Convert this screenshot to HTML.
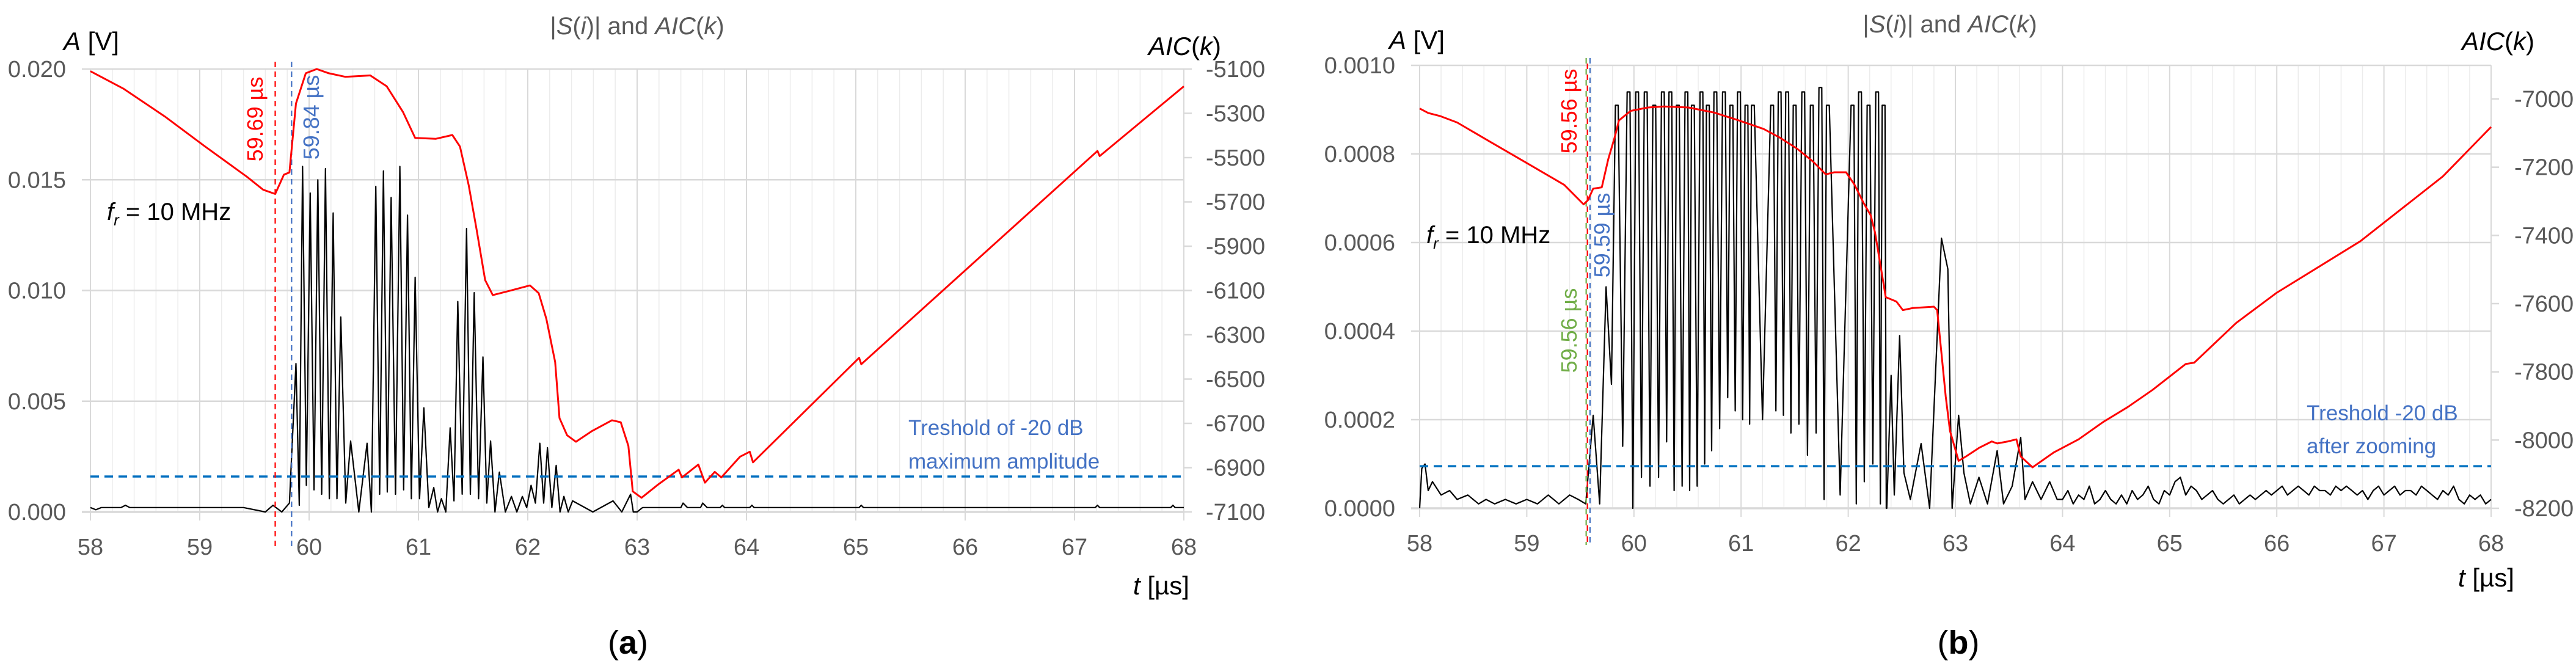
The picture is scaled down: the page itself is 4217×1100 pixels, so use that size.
<!DOCTYPE html>
<html><head><meta charset="utf-8">
<style>
html,body{margin:0;padding:0;background:#fff;}
svg{display:block;}
text{font-family:"Liberation Sans",sans-serif;}
</style></head>
<body>
<svg id="fig" width="4217" height="1100" viewBox="0 0 4217 1100" xmlns="http://www.w3.org/2000/svg"></svg>
<script>
// ---------- Chart (a) data ----------
const aAicT = [58.00,58.30,58.68,59.05,59.43,59.58,59.69,59.77,59.82,59.88,59.97,60.07,60.18,60.33,60.56,60.71,60.86,60.97,61.16,61.31,61.38,61.46,61.53,61.61,61.68,61.83,62.02,62.10,62.17,62.25,62.29,62.36,62.44,62.59,62.77,62.85,62.92,62.96,63.04,63.19,63.38,63.41,63.56,63.62,63.71,63.77,63.94,64.03,64.06,65.03,65.05,67.21,67.23,68.00];
const aAicV = [-5110,-5188,-5314,-5450,-5586,-5645,-5664,-5577,-5567,-5256,-5119,-5100,-5119,-5135,-5129,-5178,-5295,-5411,-5415,-5398,-5450,-5625,-5820,-6053,-6121,-6102,-6077,-6112,-6228,-6423,-6676,-6754,-6783,-6734,-6686,-6695,-6802,-7007,-7036,-6977,-6909,-6944,-6886,-6968,-6919,-6944,-6851,-6828,-6876,-6404,-6433,-5470,-5493,-5178];
const aPeakT = [59.88,59.94,60.01,60.08,60.15,60.22,60.29,60.38,60.53,60.61,60.68,60.75,60.83,60.90,60.97,61.05,61.14,61.21,61.29,61.36,61.44,61.51,61.59,61.66,61.74,61.85,61.95,62.03,62.11,62.18,62.26,62.33,62.41,62.78,62.94];
const aPeakA = [0.0067,0.0156,0.0144,0.0150,0.0155,0.0135,0.0088,0.0032,0.0031,0.0147,0.0154,0.0142,0.0156,0.0134,0.0106,0.0047,0.0011,0.0006,0.0038,0.0095,0.0128,0.0099,0.0070,0.0032,0.0018,0.0007,0.0007,0.0012,0.0031,0.0029,0.0021,0.0007,0.0005,0.0005,0.0008];
const aValleyA = [0.0003,0.0012,0.0010,0.0008,0.0006,0.0006,0.0004,0.0000,0.0000,0.0008,0.0009,0.0008,0.0010,0.0006,0.0006,0.0002,0.0000,0.0000,0.0005,0.0008,0.0008,0.0006,0.0004,0.0000,0.0000,0.0000,0.0002,0.0004,0.0004,0.0002,0.0000,0.0000,0.0000,0.0000,0.0000];
const aHeadT = [58.00,58.05,58.10,58.28,58.32,58.36,59.40,59.60,59.67,59.75,59.82];
const aHeadA = [0.0002,0.0001,0.0002,0.0002,0.0003,0.0002,0.0002,0.0000,0.0003,0.0000,0.0004];
const aTailT = [63.00,63.05,63.40,63.42,63.46,63.58,63.60,63.64,63.76,63.78,63.80,64.03,64.05,64.07,65.03,65.05,65.07,67.19,67.21,67.23,67.88,67.90,67.92,68.00];
const aTailA = [0.0000,0.0002,0.0002,0.0004,0.0002,0.0002,0.0004,0.0002,0.0002,0.0003,0.0002,0.0002,0.0003,0.0002,0.0002,0.0003,0.0002,0.0002,0.0003,0.0002,0.0002,0.0003,0.0002,0.0002];
const aThreshold = 0.0016;
const aMarkers = [59.69, 59.84];
const aLeftTicks = [0, 0.005, 0.010, 0.015, 0.020];
const aLeftLabels = ["0.000","0.005","0.010","0.015","0.020"];
const aRightTicks = [-7100,-6900,-6700,-6500,-6300,-6100,-5900,-5700,-5500,-5300,-5100];
const xTicks = [58,59,60,61,62,63,64,65,66,67,68];

// ---------- Chart (b) data ----------
const bAicT = [58.00,58.08,58.19,58.35,58.66,59.04,59.35,59.53,59.57,59.62,59.70,59.76,59.82,59.86,59.97,60.13,60.28,60.51,60.75,60.98,61.21,61.36,61.52,61.67,61.79,61.87,61.98,62.06,62.14,62.21,62.25,62.29,62.35,62.45,62.51,62.60,62.80,62.83,62.87,62.91,62.95,63.03,63.10,63.22,63.34,63.39,63.49,63.57,63.61,63.72,63.92,64.15,64.38,64.61,64.84,65.15,65.23,65.62,66.00,66.78,67.55,68.00];
const bAicV = [-7028,-7041,-7050,-7069,-7126,-7195,-7252,-7309,-7297,-7263,-7259,-7177,-7113,-7063,-7035,-7025,-7022,-7025,-7040,-7063,-7088,-7113,-7145,-7183,-7221,-7215,-7215,-7252,-7303,-7341,-7391,-7467,-7581,-7594,-7619,-7613,-7609,-7619,-7745,-7872,-7973,-8061,-8048,-8023,-8004,-8010,-8004,-7998,-8048,-8080,-8036,-7998,-7947,-7903,-7853,-7777,-7773,-7657,-7568,-7417,-7227,-7082];
const bPeakT = [59.84,59.95,60.03,60.11,60.19,60.27,60.34,60.41,60.49,60.55,60.63,60.69,60.76,60.84,60.91,60.98,61.05,61.11,61.29,61.36,61.43,61.50,61.58,61.66,61.74,61.81,62.04,62.11,62.19,62.27,62.33];
const bPeakA = [0.00091,0.00094,0.00094,0.00094,0.00091,0.00094,0.00094,0.00091,0.00094,0.00091,0.00094,0.00091,0.00094,0.00094,0.00091,0.00094,0.00091,0.00091,0.00091,0.00094,0.00094,0.00091,0.00094,0.00091,0.00095,0.00091,0.00091,0.00094,0.00091,0.00094,0.00091];
const bValleyA = [0.00014,0.00000,0.00007,0.00005,0.00007,0.00015,0.00004,0.00005,0.00004,0.00005,0.00010,0.00013,0.00018,0.00025,0.00022,0.00020,0.00019,0.00020,0.00022,0.00021,0.00017,0.00019,0.00012,0.00017,0.00002,0.00003,0.00001,0.00006,0.00010,0.00001,0.00000];
const bHeadT = [58.00,58.02,58.05,58.08,58.12,58.20,58.28,58.35,58.45,58.55,58.62,58.70,58.80,58.90,59.00,59.10,59.20,59.30,59.40,59.48,59.55,59.62,59.68,59.74,59.79];
const bHeadA = [0.00000,0.00009,0.00010,0.00004,0.00006,0.00003,0.00004,0.00002,0.00003,0.00001,0.00002,0.00001,0.00002,0.00001,0.00002,0.00001,0.00003,0.00001,0.00003,0.00002,0.00001,0.00021,0.00001,0.00050,0.00028];
const bTailT = [62.36,62.40,62.43,62.48,62.52,62.58,62.68,62.76,62.87,62.93,62.97,63.03,63.08,63.14,63.22,63.30,63.39,63.45,63.53,63.61,63.65,63.72,63.80,63.88,63.95];
const bTailA = [0.00000,0.00030,0.00003,0.00039,0.00008,0.00002,0.000146,0.00000,0.00061,0.00054,0.00000,0.00021,0.00008,0.00001,0.00007,0.00001,0.00013,0.00001,0.00005,0.00016,0.00002,0.00006,0.00002,0.00006,0.00002];
const bNoiseA = [0.00002,0.00004,0.00001,0.00003,0.00002,0.00005,0.00001,0.00002,0.00004,0.00002,0.00001,0.00003,0.00001,0.00004,0.00002,0.00003,0.00005,0.00002,0.00001,0.00004,0.00003,0.00006,0.00007,0.00003,0.00005,0.00004,0.00002,0.00003,0.00004,0.00002,0.00001,0.00002,0.00003,0.00001,0.00002,0.00003,0.00002,0.00003,0.00004,0.00003,0.00004,0.00005,0.00003,0.00004,0.00005,0.00004,0.00003,0.00005,0.00004,0.00004,0.00003,0.00005,0.00004,0.00005,0.00004,0.00003,0.00004,0.00002,0.00004,0.00005,0.00003,0.00004,0.00005,0.00003,0.00004,0.00004,0.00003,0.00005,0.00004,0.00003,0.00002,0.00004,0.00003,0.00005,0.00002,0.00001,0.00003,0.00002,0.00003,0.00001,0.00002];
const bThreshold = 0.000095;
const bMarkers = [59.56, 59.59];
const bLeftTicks = [0,0.0002,0.0004,0.0006,0.0008,0.0010];
const bLeftLabels = ["0.0000","0.0002","0.0004","0.0006","0.0008","0.0010"];
const bRightTicks = [-8200,-8000,-7800,-7600,-7400,-7200,-7000];

const NS = "http://www.w3.org/2000/svg";
const svg = document.getElementById('fig');
function mk(tag, attrs, parent, txt){
  const e = document.createElementNS(NS, tag);
  for (const k in attrs) e.setAttribute(k, attrs[k]);
  if (txt !== undefined) e.textContent = txt;
  (parent||svg).appendChild(e);
  return e;
}
function pts(xs, ys, sx, sy){ return xs.map((t,i)=>sx(t).toFixed(1)+','+sy(ys[i]).toFixed(1)).join(' '); }

function drawChart(cfg){
  const g = mk('g', {});
  
  
  const L=cfg.left,R=cfg.right,T=cfg.top,B=cfg.bottom;
  const sx = t => L + (t-58)/10*(R-L);
  const syL = v => B - (v-cfg.yL[0])/(cfg.yL[1]-cfg.yL[0])*(B-T);
  const syR = v => B - (v-cfg.yR[0])/(cfg.yR[1]-cfg.yR[0])*(B-T);
  for (let k=1;k<50;k++){ if (k%5===0) continue;
    const t = 58 + k*0.2;
    const l = mk('line',{x1:sx(t),x2:sx(t),y1:T,y2:B,stroke:'#ececec','stroke-width':1.5},g);
    
    
  }
  xTicks.forEach(t=>{
    const l = mk('line',{x1:sx(t),x2:sx(t),y1:T,y2:B+14,stroke:'#d9d9d9','stroke-width':2},g);
    
    
    const tx = mk('text',{x:sx(t),y:B+70,'text-anchor':'middle','font-size':38,fill:'#595959'},g,String(t));
    
    
  });
  cfg.leftTicks.forEach((v,i)=>{
    const y = syL(v);
    const l = mk('line',{x1:L-14,x2:R,y1:y,y2:y,stroke:'#d9d9d9','stroke-width':i===0?3.5:2.5},g);
    
    
    const tx = mk('text',{x:L-40,y:y+13,'text-anchor':'end','font-size':38,fill:'#595959'},g,cfg.leftLabels[i]);
    
    
  });
  cfg.rightTicks.forEach(v=>{
    const y = syR(v);
    const l = mk('line',{x1:R,x2:R+13,y1:y,y2:y,stroke:'#d9d9d9','stroke-width':2.5},g);
    
    
    const tx = mk('text',{x:R+cfg.rLblX,y:y+13,'text-anchor':'start','font-size':38,fill:'#595959'},g,String(v));
    
    
  });
  const sT=[], sA=[];
  cfg.headT.forEach((t,i)=>{sT.push(t);sA.push(cfg.headA[i]);});
  cfg.peakT.forEach((t,i)=>{
    if (cfg.half>0){ sT.push(t-cfg.half); sA.push(cfg.peakA[i]); sT.push(t+cfg.half); sA.push(cfg.peakA[i]); }
    else { sT.push(t); sA.push(cfg.peakA[i]); }
    const nt = i<cfg.peakT.length-1 ? cfg.peakT[i+1] : t+0.05;
    sT.push((t+nt)/2); sA.push(cfg.valleyA[i]);
  });
  cfg.tailT.forEach((t,i)=>{sT.push(t);sA.push(cfg.tailA[i]);});
  if (cfg.noiseA){ const n=cfg.noiseA.length; cfg.noiseA.forEach((a,i)=>{sT.push(64+4*i/(n-1)); sA.push(a);}); }
  const sig = mk('polyline',{points:pts(sT,sA,sx,syL),fill:'none',stroke:'#000','stroke-width':2.2,'stroke-linejoin':'round'},g);
  
  
  const th = mk('line',{x1:L,x2:R,y1:syL(cfg.threshold),y2:syL(cfg.threshold),stroke:'#0070c0','stroke-width':3.5,'stroke-dasharray':'14 9'},g);
  
  
  cfg.markerDraw.forEach(m=>{
    const x = sx(cfg.markers[m.i]) + (m.dx||0);
    const l = mk('line',{x1:x,x2:x,y1:T-12,y2:B+60,stroke:m.color,'stroke-width':2.2,'stroke-dasharray':m.dash,'stroke-dashoffset':m.off||0},g);
    
    
  });
  const aic = mk('polyline',{points:pts(cfg.aicT,cfg.aicV,sx,syR),fill:'none',stroke:'#ff0000','stroke-width':3,'stroke-linejoin':'round'},g);
  
  
  return g;
}

const gA = drawChart({name:'chart-a',left:148,right:1938,top:113,bottom:838,yL:[0,0.02],yR:[-7100,-5100],
  leftTicks:aLeftTicks,leftLabels:aLeftLabels,rightTicks:aRightTicks,rLblX:36,
  headT:aHeadT,headA:aHeadA,peakT:aPeakT,peakA:aPeakA,valleyA:aValleyA,half:0,tailT:aTailT,tailA:aTailA,noiseA:null,
  threshold:aThreshold,markers:aMarkers,aicT:aAicT,aicV:aAicV,
  markerDraw:[{i:0,color:'#ff0000',dash:'9 7',name:'onset-marker-red'},{i:1,color:'#4472c4',dash:'9 7',name:'onset-marker-blue'}]});
const gB = drawChart({name:'chart-b',left:2324,right:4078,top:107,bottom:832,yL:[0,0.001],yR:[-8200,-6901.5],
  leftTicks:bLeftTicks,leftLabels:bLeftLabels,rightTicks:bRightTicks,rLblX:38,
  headT:bHeadT,headA:bHeadA,peakT:bPeakT,peakA:bPeakA,valleyA:bValleyA,half:0.013,tailT:bTailT,tailA:bTailA,noiseA:bNoiseA,
  threshold:bThreshold,markers:bMarkers,aicT:bAicT,aicV:bAicV,
  markerDraw:[{i:0,color:'#70ad47',dash:'9 9',name:'onset-marker-green',dx:-1},{i:0,color:'#ff0000',dash:'9 9',off:9,name:'onset-marker-red',dx:1},{i:1,color:'#4472c4',dash:'9 7',name:'onset-marker-blue'}]});

function label(g,attrs,html,name){
  const t = mk('text',attrs,g);
  t.innerHTML = html;
  
  
  return t;
}
label(gA,{x:1043,y:56,'text-anchor':'middle','font-size':40,fill:'#595959'},'|<tspan font-style="italic">S</tspan>(<tspan font-style="italic">i</tspan>)| and <tspan font-style="italic">AIC</tspan>(<tspan font-style="italic">k</tspan>)','chart-title');
label(gA,{x:104,y:82,'font-size':42,fill:'#000'},'<tspan font-style="italic">A</tspan>  [V]','y-left-axis-title');
label(gA,{x:1880,y:90,'font-size':42,fill:'#000'},'<tspan font-style="italic">AIC</tspan>(<tspan font-style="italic">k</tspan>)','y-right-axis-title');
label(gA,{x:1855,y:973,'font-size':42,fill:'#000'},'<tspan font-style="italic">t</tspan> [µs]','x-axis-title');
label(gA,{x:175,y:360,'font-size':40,fill:'#000'},'<tspan font-style="italic">f</tspan><tspan font-style="italic" font-size="26" dy="9">r</tspan><tspan dy="-9"> =  10 MHz</tspan>','frequency-note');
label(gA,{x:1487,y:712,'font-size':35,fill:'#4472c4'},'Treshold of -20 dB','threshold-label-line1');
label(gA,{x:1487,y:767,'font-size':35,fill:'#4472c4'},'maximum amplitude','threshold-label-line2');
label(gA,{x:0,y:0,'font-size':36,fill:'#ff0000','text-anchor':'middle',transform:'translate(430,195) rotate(-90)'},'59.69 µs','marker-label-red');
label(gA,{x:0,y:0,'font-size':36,fill:'#4472c4','text-anchor':'middle',transform:'translate(522,192) rotate(-90)'},'59.84 µs','marker-label-blue');
label(gA,{x:1028,y:1070,'font-size':54,fill:'#000','text-anchor':'middle','font-family':'Liberation Serif, serif'},'(<tspan font-weight="bold">a</tspan>)','panel-label-a');
label(gB,{x:3192,y:53,'text-anchor':'middle','font-size':40,fill:'#595959'},'|<tspan font-style="italic">S</tspan>(<tspan font-style="italic">i</tspan>)| and <tspan font-style="italic">AIC</tspan>(<tspan font-style="italic">k</tspan>)','chart-title');
label(gB,{x:2274,y:80,'font-size':42,fill:'#000'},'<tspan font-style="italic">A</tspan>  [V]','y-left-axis-title');
label(gB,{x:4030,y:82,'font-size':42,fill:'#000'},'<tspan font-style="italic">AIC</tspan>(<tspan font-style="italic">k</tspan>)','y-right-axis-title');
label(gB,{x:4024,y:960,'font-size':42,fill:'#000'},'<tspan font-style="italic">t</tspan> [µs]','x-axis-title');
label(gB,{x:2335,y:398,'font-size':40,fill:'#000'},'<tspan font-style="italic">f</tspan><tspan font-style="italic" font-size="26" dy="9">r</tspan><tspan dy="-9"> = 10 MHz</tspan>','frequency-note');
label(gB,{x:3776,y:688,'font-size':35,fill:'#4472c4'},'Treshold -20 dB','threshold-label-line1');
label(gB,{x:3776,y:742,'font-size':35,fill:'#4472c4'},'after zooming','threshold-label-line2');
label(gB,{x:0,y:0,'font-size':36,fill:'#ff0000','text-anchor':'middle',transform:'translate(2581,182) rotate(-90)'},'59.56 µs','marker-label-red');
label(gB,{x:0,y:0,'font-size':36,fill:'#4472c4','text-anchor':'middle',transform:'translate(2635,385) rotate(-90)'},'59.59 µs','marker-label-blue');
label(gB,{x:0,y:0,'font-size':36,fill:'#70ad47','text-anchor':'middle',transform:'translate(2581,541) rotate(-90)'},'59.56 µs','marker-label-green');
label(gB,{x:3206,y:1070,'font-size':54,fill:'#000','text-anchor':'middle','font-family':'Liberation Serif, serif'},'(<tspan font-weight="bold">b</tspan>)','panel-label-b');
</script>
</body></html>
